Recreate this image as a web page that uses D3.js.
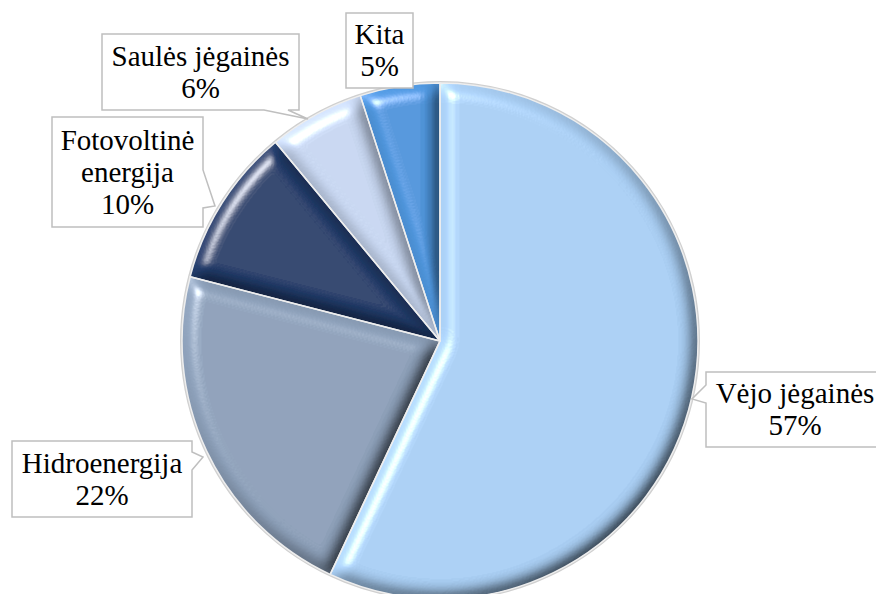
<!DOCTYPE html>
<html>
<head>
<meta charset="utf-8">
<script src="https://cdn.jsdelivr.net/npm/d3@7"></script>
<style>
html,body{margin:0;padding:0;background:#fff;}
svg{display:block;}
</style>
</head>
<body>
<svg id="chart" width="876" height="594"></svg>
<script>
const categories = ["Vėjo jėgainės", "Hidroenergija", "Fotovoltinė energija", "Saulės jėgainės", "Kita"];
const values = [57, 22, 10, 6, 5];
const labelLines = [["Vėjo jėgainės"], ["Hidroenergija"], ["Fotovoltinė", "energija"], ["Saulės jėgainės"], ["Kita"]];
const colors = ["#a8cdf2", "#8c9fb8", "#223c6a", "#c6d5ef", "#4e94da"];

const W = 876, H = 594;
const cx = 440, cy = 341, R = 258;
const svg = d3.select("#chart");
const FONT = "\"Liberation Serif\"";

// bevel filter
const defs = svg.append("defs");
const f = defs.append("filter").attr("id", "bevel")
  .attr("x", "-5%").attr("y", "-5%").attr("width", "110%").attr("height", "110%");
f.append("feGaussianBlur").attr("in", "SourceAlpha").attr("stdDeviation", 8).attr("result", "blur");
const dl = f.append("feDiffuseLighting").attr("in", "blur").attr("surfaceScale", 11)
  .attr("diffuseConstant", 1).attr("lighting-color", "#fff").attr("result", "diff");
dl.append("feDistantLight").attr("azimuth", 225).attr("elevation", 55);
f.append("feComposite").attr("in", "SourceGraphic").attr("in2", "diff")
  .attr("operator", "arithmetic").attr("k1", 1.22).attr("k2", 0).attr("k3", 0).attr("k4", 0).attr("result", "lit");
const sl = f.append("feSpecularLighting").attr("in", "blur").attr("surfaceScale", 11)
  .attr("specularConstant", 0.7).attr("specularExponent", 35).attr("lighting-color", "#fff").attr("result", "spec");
sl.append("feDistantLight").attr("azimuth", 225).attr("elevation", 40);
f.append("feComposite").attr("in", "spec").attr("in2", "SourceAlpha").attr("operator", "in").attr("result", "specIn");
f.append("feComposite").attr("in", "lit").attr("in2", "specIn")
  .attr("operator", "arithmetic").attr("k1", 0).attr("k2", 1).attr("k3", 1).attr("k4", 0).attr("result", "out");
f.append("feComposite").attr("in", "out").attr("in2", "SourceAlpha").attr("operator", "in");

const pie = d3.pie().sort(null).value(d => d).startAngle(0).endAngle(2 * Math.PI);
const arcs = pie(values);
const arc = d3.arc().innerRadius(0).outerRadius(R);
const color = d3.scaleOrdinal().domain(categories).range(colors);

const g = svg.append("g").attr("transform", `translate(${cx},${cy})`);
// soft outer rim
g.append("circle").attr("r", R + 1).attr("fill", "none").attr("stroke", "#d0d0d0").attr("stroke-width", 2);
g.selectAll("path.slice").data(arcs).enter().append("path")
  .attr("class", "slice")
  .attr("d", arc)
  .attr("fill", (d, i) => color(categories[i]))
  .attr("filter", "url(#bevel)");
g.selectAll("path.sep").data(arcs).enter().append("path")
  .attr("class", "sep")
  .attr("d", arc)
  .attr("fill", "none")
  .attr("stroke", "#eeeeee")
  .attr("stroke-width", 1.5)
  .attr("stroke-linejoin", "round");

// callout boxes: [x0, y0, x1, y1, side, baseA, baseB, tipX, tipY]
const boxes = [
  [706, 372, 880, 447, "left", 385, 403, 692, 399],
  [12, 441, 192, 517, "right", 452, 470, 203, 457],
  [52, 117, 203, 227, "right", 170, 208, 215, 206],
  [102, 34, 299, 110, "bottom", 264, 288, 308, 119],
  [346, 13, 413, 88, "none", 0, 0, 0, 0]
];

function calloutPath(b) {
  const [x0, y0, x1, y1, side, a, c, tx, ty] = b;
  const p = d3.path();
  p.moveTo(x0, y0);
  p.lineTo(x1, y0);
  if (side === "right") { p.lineTo(x1, a); p.lineTo(tx, ty); p.lineTo(x1, c); }
  p.lineTo(x1, y1);
  if (side === "bottom") { p.lineTo(c, y1); p.lineTo(tx, ty); p.lineTo(a, y1); }
  p.lineTo(x0, y1);
  if (side === "left") { p.lineTo(x0, c); p.lineTo(tx, ty); p.lineTo(x0, a); }
  p.closePath();
  return p.toString();
}

const fontSize = 29, lineH = 32;
const lab = svg.selectAll("g.lab").data(categories).enter().append("g").attr("class", "lab");
lab.append("path")
  .attr("d", (d, i) => calloutPath(boxes[i]))
  .attr("fill", "#fff")
  .attr("stroke", "#bfbfbf")
  .attr("stroke-width", 1.5)
  .attr("stroke-linejoin", "miter");
lab.each(function (d, i) {
  const b = boxes[i];
  const lines = labelLines[i].concat([values[i] + "%"]);
  const mx = i === 0 ? 795 : (b[0] + b[2]) / 2;
  const my = (b[1] + b[3]) / 2;
  const top = my - (lines.length - 1) * lineH / 2;
  const t = d3.select(this).append("text")
    .attr("text-anchor", "middle")
    .style("font-family", FONT)
    .attr("font-size", fontSize)
    .attr("fill", "#000");
  lines.forEach((ln, k) => {
    t.append("tspan").attr("x", mx).attr("y", top + k * lineH + fontSize * 0.33).text(ln);
  });
});
</script>
</body>
</html>
